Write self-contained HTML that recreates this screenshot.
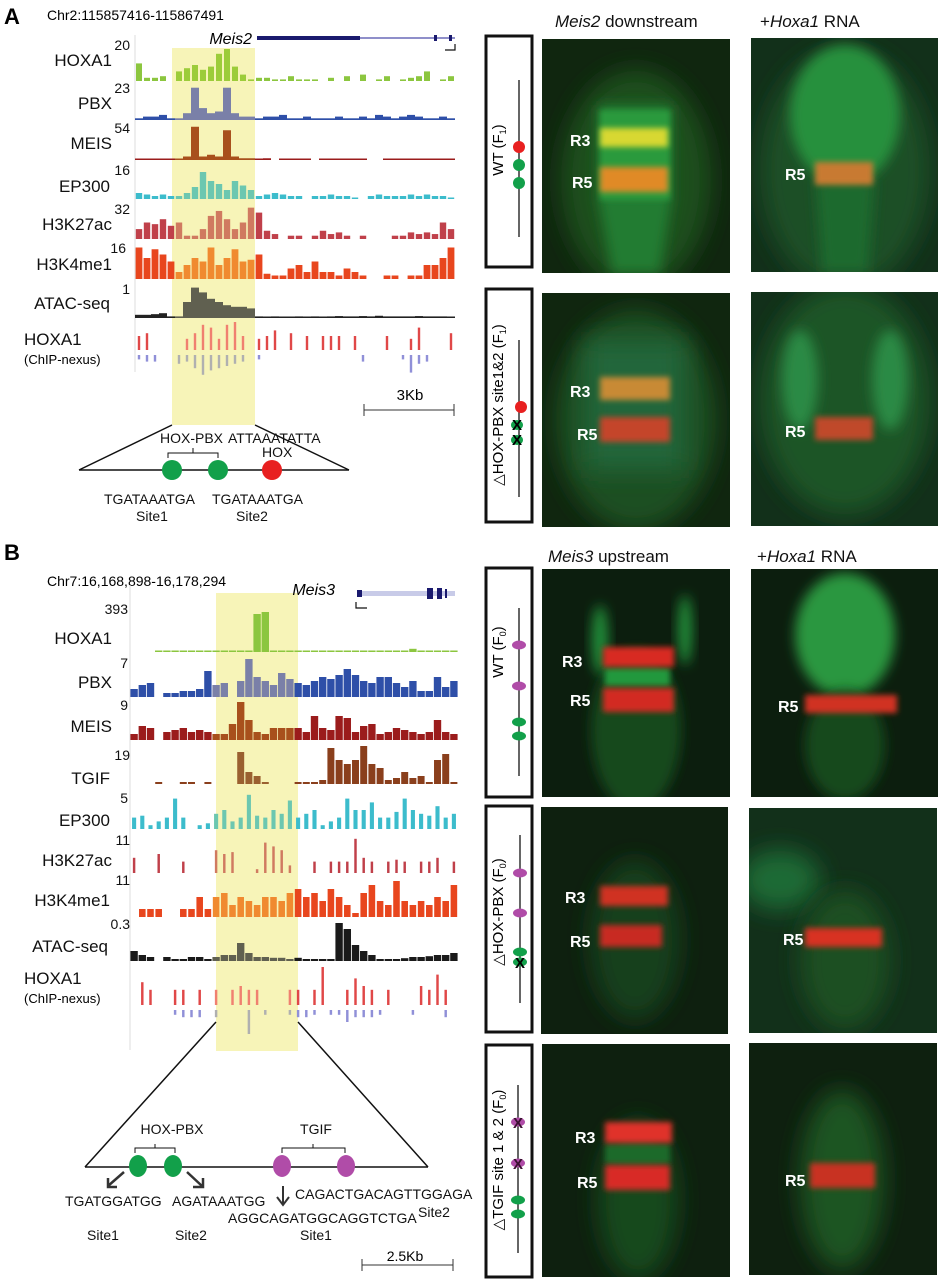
<!DOCTYPE html>
<html><head><meta charset="utf-8">
<style>
html,body{margin:0;padding:0;background:#fff;}
svg{display:block;font-family:"Liberation Sans",sans-serif;}
.lbl{font-size:17px;fill:#111;}
.max{font-size:14px;fill:#111;}
.r{font-size:16px;font-weight:bold;fill:#fff;}
.ttl{font-size:17px;fill:#111;}
.seq{font-size:14px;fill:#111;}
</style></head>
<body>
<svg id="fig" width="940" height="1280" viewBox="0 0 940 1280">
<defs>
  <filter id="b6" x="-50%" y="-50%" width="200%" height="200%"><feGaussianBlur stdDeviation="6"/></filter>
  <filter id="b3" x="-50%" y="-50%" width="200%" height="200%"><feGaussianBlur stdDeviation="3"/></filter>
  <filter id="b12" x="-50%" y="-50%" width="200%" height="200%"><feGaussianBlur stdDeviation="12"/></filter>
</defs>

<!-- Panel A left -->
<text x="4" y="24" font-size="22" font-weight="bold">A</text>
<text x="47" y="20" font-size="14">Chr2:115857416-115867491</text>
<rect x="172" y="48" width="83" height="377" fill="#f7f4b8"/>
<line x1="135" y1="35" x2="135" y2="372" stroke="#ddd" stroke-width="1"/>
<text x="252" y="44" font-size="16" font-style="italic" text-anchor="end">Meis2</text>
<g>
<rect x="257" y="36" width="103" height="4" fill="#1a1a6e"/>
<line x1="360" y1="38" x2="455" y2="38" stroke="#6a6ab8" stroke-width="1.5"/>
<rect x="434" y="35" width="3" height="6" fill="#1a1a6e"/><rect x="449" y="35" width="3" height="6" fill="#1a1a6e"/>
<path d="M445 50 H455 V44" fill="none" stroke="#111" stroke-width="1.2"/>
</g>
<g id="tracksA"></g>
<g>
<text class="lbl" x="112" y="66" text-anchor="end">HOXA1</text><text class="max" x="130" y="50" text-anchor="end">20</text>
<text class="lbl" x="112" y="109" text-anchor="end">PBX</text><text class="max" x="130" y="93" text-anchor="end">23</text>
<text class="lbl" x="112" y="149" text-anchor="end">MEIS</text><text class="max" x="130" y="133" text-anchor="end">54</text>
<text class="lbl" x="110" y="192" text-anchor="end">EP300</text><text class="max" x="130" y="175" text-anchor="end">16</text>
<text class="lbl" x="112" y="230" text-anchor="end">H3K27ac</text><text class="max" x="130" y="214" text-anchor="end">32</text>
<text class="lbl" x="112" y="270" text-anchor="end">H3K4me1</text><text class="max" x="126" y="253" text-anchor="end">16</text>
<text class="lbl" x="110" y="309" text-anchor="end">ATAC-seq</text><text class="max" x="130" y="294" text-anchor="end">1</text>
<text class="lbl" x="24" y="345">HOXA1</text><text x="24" y="364" font-size="13">(ChIP-nexus)</text>
</g>
<g>
<text x="410" y="400" font-size="15" text-anchor="middle">3Kb</text>
<line x1="364" y1="410" x2="454" y2="410" stroke="#333"/><line x1="364" y1="404" x2="364" y2="416" stroke="#333"/><line x1="454" y1="404" x2="454" y2="416" stroke="#333"/>
</g>
<g>
<line x1="172" y1="425" x2="79" y2="470" stroke="#111" stroke-width="1.5"/>
<line x1="255" y1="425" x2="349" y2="470" stroke="#111" stroke-width="1.5"/>
<line x1="79" y1="470" x2="349" y2="470" stroke="#111" stroke-width="1.5"/>
<circle cx="172" cy="470" r="10" fill="#12a04a"/><circle cx="218" cy="470" r="10" fill="#12a04a"/><circle cx="272" cy="470" r="10" fill="#e82020"/>
<path d="M168 458 V453 H218 V458 M193 453 V448" fill="none" stroke="#111"/>
<text class="seq" x="160" y="443" font-size="14">HOX-PBX</text>
<text class="seq" x="228" y="443">ATTAAATATTA</text>
<text class="seq" x="262" y="457">HOX</text>
<text class="seq" x="104" y="504" font-size="13">TGATAAATGA</text><text class="seq" x="136" y="521">Site1</text>
<text class="seq" x="212" y="504" font-size="13">TGATAAATGA</text><text class="seq" x="236" y="521">Site2</text>
</g>

<!-- Panel B left -->
<text x="4" y="560" font-size="22" font-weight="bold">B</text>
<text x="47" y="586" font-size="14">Chr7:16,168,898-16,178,294</text>
<rect x="216" y="593" width="82" height="458" fill="#f7f4b8"/>
<line x1="130" y1="585" x2="130" y2="1050" stroke="#ddd" stroke-width="1"/>
<text x="335" y="595" font-size="16" font-style="italic" text-anchor="end">Meis3</text>
<g>
<rect x="357" y="591" width="98" height="5" fill="#c8cbe8"/>
<rect x="357" y="590" width="5" height="7" fill="#1a1a6e"/>
<rect x="427" y="588" width="6" height="11" fill="#1a1a6e"/><rect x="437" y="588" width="5" height="11" fill="#1a1a6e"/><rect x="445" y="589" width="2" height="9" fill="#1a1a6e"/>
<path d="M356 602 V608 H367" fill="none" stroke="#111" stroke-width="1.2"/>
</g>
<g id="tracksB"></g>
<g>
<text class="max" x="128" y="614" text-anchor="end">393</text><text class="lbl" x="112" y="644" text-anchor="end">HOXA1</text>
<text class="max" x="128" y="668" text-anchor="end">7</text><text class="lbl" x="112" y="688" text-anchor="end">PBX</text>
<text class="max" x="128" y="710" text-anchor="end">9</text><text class="lbl" x="112" y="732" text-anchor="end">MEIS</text>
<text class="max" x="130" y="760" text-anchor="end">19</text><text class="lbl" x="110" y="784" text-anchor="end">TGIF</text>
<text class="max" x="128" y="803" text-anchor="end">5</text><text class="lbl" x="110" y="826" text-anchor="end">EP300</text>
<text class="max" x="130" y="845" text-anchor="end">11</text><text class="lbl" x="112" y="866" text-anchor="end">H3K27ac</text>
<text class="max" x="130" y="885" text-anchor="end">11</text><text class="lbl" x="110" y="906" text-anchor="end">H3K4me1</text>
<text class="max" x="130" y="929" text-anchor="end">0.3</text><text class="lbl" x="108" y="952" text-anchor="end">ATAC-seq</text>
<text class="lbl" x="24" y="984">HOXA1</text><text x="24" y="1003" font-size="13">(ChIP-nexus)</text>
</g>
<g>
<line x1="216" y1="1022" x2="85" y2="1167" stroke="#111" stroke-width="1.5"/>
<line x1="298" y1="1022" x2="428" y2="1167" stroke="#111" stroke-width="1.5"/>
<line x1="85" y1="1167" x2="428" y2="1167" stroke="#111" stroke-width="1.5"/>
<ellipse cx="138" cy="1166" rx="9" ry="11" fill="#12a04a"/><ellipse cx="173" cy="1166" rx="9" ry="11" fill="#12a04a"/>
<ellipse cx="282" cy="1166" rx="9" ry="11" fill="#b04ca8"/><ellipse cx="346" cy="1166" rx="9" ry="11" fill="#b04ca8"/>
<path d="M135 1153 V1148 H175 V1153 M155 1148 V1144" fill="none" stroke="#111"/>
<path d="M282 1153 V1148 H345 V1153 M313 1148 V1144" fill="none" stroke="#111"/>
<text class="seq" x="172" y="1134" font-size="15" text-anchor="middle">HOX-PBX</text>
<text class="seq" x="316" y="1134" font-size="15" text-anchor="middle">TGIF</text>
<path d="M124 1172 L108 1186 M108 1178 V1187 H117" fill="none" stroke="#333" stroke-width="2.5"/>
<path d="M187 1172 L202 1186 M193 1187 H203 V1178" fill="none" stroke="#333" stroke-width="2.5"/>
<path d="M283 1186 V1204 M277 1197 L283 1205 L289 1197" fill="none" stroke="#333" stroke-width="2"/>
<text class="seq" x="65" y="1206">TGATGGATGG</text><text class="seq" x="172" y="1206">AGATAAATGG</text>
<text class="seq" x="295" y="1199" font-size="13">CAGACTGACAGTTGGAGA</text>
<text class="seq" x="228" y="1223" font-size="13">AGGCAGATGGCAGGTCTGA</text>
<text class="seq" x="418" y="1217">Site2</text>
<text class="seq" x="87" y="1240">Site1</text><text class="seq" x="175" y="1240">Site2</text><text class="seq" x="300" y="1240">Site1</text>
</g>
<g>
<text x="405" y="1261" font-size="14" text-anchor="middle">2.5Kb</text>
<line x1="362" y1="1265" x2="453" y2="1265" stroke="#333"/><line x1="362" y1="1259" x2="362" y2="1271" stroke="#333"/><line x1="453" y1="1259" x2="453" y2="1271" stroke="#333"/>
</g>

<!-- Right side titles -->
<text class="ttl" x="555" y="27"><tspan font-style="italic">Meis2</tspan> downstream</text>
<text class="ttl" x="760" y="27">+<tspan font-style="italic">Hoxa1</tspan> RNA</text>
<text class="ttl" x="548" y="562"><tspan font-style="italic">Meis3</tspan> upstream</text>
<text class="ttl" x="757" y="562">+<tspan font-style="italic">Hoxa1</tspan> RNA</text>

<!-- Schematic boxes -->
<g>
<rect x="486" y="36" width="46" height="231" fill="#fff" stroke="#111" stroke-width="3"/>
<text transform="translate(503,150) rotate(-90)" font-size="15" text-anchor="middle">WT (F<tspan font-size="9" dy="3">1</tspan><tspan dy="-3">)</tspan></text>
<line x1="519" y1="80" x2="519" y2="237" stroke="#333" stroke-width="1.5"/>
<ellipse cx="519" cy="147" rx="6" ry="6" fill="#e82020"/><ellipse cx="519" cy="165" rx="6" ry="6" fill="#12a04a"/><ellipse cx="519" cy="183" rx="6" ry="6" fill="#12a04a"/>
</g>
<g>
<rect x="486" y="289" width="46" height="233" fill="#fff" stroke="#111" stroke-width="3"/>
<text transform="translate(503,405) rotate(-90)" font-size="15" text-anchor="middle">△HOX-PBX site1&amp;2 (F<tspan font-size="9" dy="3">1</tspan><tspan dy="-3">)</tspan></text>
<line x1="519" y1="340" x2="519" y2="497" stroke="#333" stroke-width="1.5"/>
<ellipse cx="521" cy="407" rx="6" ry="6" fill="#e82020"/><ellipse cx="517" cy="425" rx="6" ry="5" fill="#12a04a"/><ellipse cx="517" cy="440" rx="6" ry="5" fill="#12a04a"/>
<text x="517" y="430" font-size="15" font-weight="bold" text-anchor="middle">X</text><text x="517" y="445" font-size="15" font-weight="bold" text-anchor="middle">X</text>
</g>
<g>
<rect x="486" y="568" width="46" height="229" fill="#fff" stroke="#111" stroke-width="3"/>
<text transform="translate(503,652) rotate(-90)" font-size="15" text-anchor="middle">WT (F<tspan font-size="9" dy="3">0</tspan><tspan dy="-3">)</tspan></text>
<line x1="519" y1="608" x2="519" y2="776" stroke="#333" stroke-width="1.5"/>
<ellipse cx="519" cy="645" rx="7" ry="4.5" fill="#b04ca8"/><ellipse cx="519" cy="686" rx="7" ry="4.5" fill="#b04ca8"/>
<ellipse cx="519" cy="722" rx="7" ry="4.5" fill="#12a04a"/><ellipse cx="519" cy="736" rx="7" ry="4.5" fill="#12a04a"/>
</g>
<g>
<rect x="486" y="806" width="46" height="226" fill="#fff" stroke="#111" stroke-width="3"/>
<text transform="translate(503,912) rotate(-90)" font-size="15" text-anchor="middle">△HOX-PBX (F<tspan font-size="9" dy="3">0</tspan><tspan dy="-3">)</tspan></text>
<line x1="520" y1="835" x2="520" y2="1003" stroke="#333" stroke-width="1.5"/>
<ellipse cx="520" cy="873" rx="7" ry="4.5" fill="#b04ca8"/><ellipse cx="520" cy="913" rx="7" ry="4.5" fill="#b04ca8"/>
<ellipse cx="520" cy="952" rx="7" ry="4.5" fill="#12a04a"/><ellipse cx="520" cy="962" rx="7" ry="4.5" fill="#12a04a"/>
<text x="520" y="968" font-size="15" font-weight="bold" text-anchor="middle">X</text>
</g>
<g>
<rect x="486" y="1045" width="46" height="232" fill="#fff" stroke="#111" stroke-width="3"/>
<text transform="translate(503,1160) rotate(-90)" font-size="15" text-anchor="middle">△TGIF site 1 &amp; 2 (F<tspan font-size="9" dy="3">0</tspan><tspan dy="-3">)</tspan></text>
<line x1="518" y1="1085" x2="518" y2="1253" stroke="#333" stroke-width="1.5"/>
<ellipse cx="518" cy="1122" rx="7" ry="4.5" fill="#b04ca8"/><ellipse cx="518" cy="1163" rx="7" ry="4.5" fill="#b04ca8"/>
<text x="518" y="1128" font-size="15" font-weight="bold" text-anchor="middle" fill="#3a1030">X</text><text x="518" y="1169" font-size="15" font-weight="bold" text-anchor="middle" fill="#3a1030">X</text>
<ellipse cx="518" cy="1200" rx="7" ry="4.5" fill="#12a04a"/><ellipse cx="518" cy="1214" rx="7" ry="4.5" fill="#12a04a"/>
</g>

<!-- Embryo images -->
<clipPath id="c1"><rect x="542" y="39" width="188" height="234"/></clipPath>
<g clip-path="url(#c1)">
<rect x="542" y="39" width="188" height="234" fill="#10260f"/>
<ellipse cx="636" cy="180" rx="75" ry="110" fill="#1b4f1f" filter="url(#b12)"/>
<path d="M598 105 H672 V200 L660 273 H612 L598 200 Z" fill="#237c33" filter="url(#b6)"/>
<rect x="600" y="110" width="70" height="90" fill="#2a9a3e" filter="url(#b3)"/>
<rect x="600" y="128" width="68" height="19" fill="#d8d830" filter="url(#b3)"/>
<rect x="600" y="167" width="68" height="25" fill="#e08a28" filter="url(#b3)"/>
<text class="r" x="570" y="146">R3</text><text class="r" x="572" y="188">R5</text>
</g>
<clipPath id="c2"><rect x="751" y="38" width="187" height="234"/></clipPath>
<g clip-path="url(#c2)">
<rect x="751" y="38" width="187" height="234" fill="#12301a"/>
<ellipse cx="845" cy="170" rx="85" ry="120" fill="#1c4f26" filter="url(#b12)"/>
<ellipse cx="845" cy="115" rx="55" ry="70" fill="#28903e" filter="url(#b6)"/>
<path d="M815 180 H875 L868 272 H822 Z" fill="#1f6a2e" filter="url(#b6)"/>
<rect x="815" y="162" width="58" height="23" fill="#c87a30" filter="url(#b3)"/>
<text class="r" x="785" y="180">R5</text>
</g>
<clipPath id="c3"><rect x="542" y="293" width="188" height="234"/></clipPath>
<g clip-path="url(#c3)">
<rect x="542" y="293" width="188" height="234" fill="#10260f"/>
<ellipse cx="636" cy="420" rx="80" ry="110" fill="#1c4f22" filter="url(#b12)"/>
<rect x="585" y="340" width="100" height="130" fill="#22663a" filter="url(#b12)"/>
<rect x="600" y="377" width="70" height="23" fill="#c88a34" filter="url(#b3)"/>
<rect x="600" y="417" width="70" height="25" fill="#c4452a" filter="url(#b3)"/>
<text class="r" x="570" y="397">R3</text><text class="r" x="577" y="440">R5</text>
</g>
<clipPath id="c4"><rect x="751" y="292" width="187" height="234"/></clipPath>
<g clip-path="url(#c4)">
<rect x="751" y="292" width="187" height="234" fill="#12301a"/>
<ellipse cx="845" cy="400" rx="85" ry="115" fill="#1e5528" filter="url(#b12)"/>
<ellipse cx="800" cy="380" rx="18" ry="50" fill="#2b8a44" filter="url(#b6)"/>
<ellipse cx="890" cy="380" rx="18" ry="50" fill="#2b8a44" filter="url(#b6)"/>
<rect x="815" y="417" width="58" height="23" fill="#c04a2a" filter="url(#b3)"/>
<text class="r" x="785" y="437">R5</text>
</g>
<clipPath id="c5"><rect x="542" y="569" width="188" height="228"/></clipPath>
<g clip-path="url(#c5)">
<rect x="542" y="569" width="188" height="228" fill="#0c1e0e"/>
<ellipse cx="636" cy="730" rx="45" ry="80" fill="#174a1f" filter="url(#b6)"/>
<ellipse cx="600" cy="640" rx="8" ry="35" fill="#22903a" filter="url(#b6)"/>
<ellipse cx="685" cy="630" rx="7" ry="35" fill="#22903a" filter="url(#b6)"/>
<rect x="605" y="668" width="65" height="18" fill="#24983c" filter="url(#b3)"/>
<rect x="603" y="647" width="71" height="20" fill="#d82a22" filter="url(#b3)"/>
<rect x="603" y="688" width="71" height="24" fill="#d22a22" filter="url(#b3)"/>
<text class="r" x="562" y="667">R3</text><text class="r" x="570" y="706">R5</text>
</g>
<clipPath id="c6"><rect x="751" y="569" width="187" height="228"/></clipPath>
<g clip-path="url(#c6)">
<rect x="751" y="569" width="187" height="228" fill="#0c1e0e"/>
<ellipse cx="845" cy="635" rx="50" ry="62" fill="#29973f" filter="url(#b6)"/>
<ellipse cx="845" cy="745" rx="40" ry="55" fill="#154a1d" filter="url(#b6)"/>
<rect x="805" y="695" width="92" height="18" fill="#d03024" filter="url(#b3)"/>
<text class="r" x="778" y="712">R5</text>
</g>
<clipPath id="c7"><rect x="541" y="807" width="187" height="227"/></clipPath>
<g clip-path="url(#c7)">
<rect x="541" y="807" width="187" height="227" fill="#0e200f"/>
<ellipse cx="635" cy="940" rx="45" ry="80" fill="#163f1a" filter="url(#b12)"/>
<rect x="600" y="886" width="68" height="20" fill="#d03022" filter="url(#b3)"/>
<rect x="600" y="925" width="62" height="22" fill="#c82c22" filter="url(#b3)"/>
<text class="r" x="565" y="903">R3</text><text class="r" x="570" y="947">R5</text>
</g>
<clipPath id="c8"><rect x="749" y="808" width="188" height="225"/></clipPath>
<g clip-path="url(#c8)">
<rect x="749" y="808" width="188" height="225" fill="#12301a"/>
<ellipse cx="780" cy="880" rx="40" ry="30" fill="#1f6a34" filter="url(#b12)"/>
<ellipse cx="845" cy="960" rx="45" ry="70" fill="#1a4f22" filter="url(#b12)"/>
<rect x="805" y="928" width="77" height="19" fill="#d83024" filter="url(#b3)"/>
<text class="r" x="783" y="945">R5</text>
</g>
<clipPath id="c9"><rect x="542" y="1044" width="188" height="233"/></clipPath>
<g clip-path="url(#c9)">
<rect x="542" y="1044" width="188" height="233" fill="#0e200f"/>
<ellipse cx="638" cy="1200" rx="40" ry="80" fill="#174a1e" filter="url(#b12)"/>
<rect x="605" y="1144" width="65" height="20" fill="#1f6a2a" filter="url(#b3)"/>
<rect x="605" y="1122" width="67" height="21" fill="#e0302a" filter="url(#b3)"/>
<rect x="605" y="1165" width="65" height="25" fill="#d82c26" filter="url(#b3)"/>
<text class="r" x="575" y="1143">R3</text><text class="r" x="577" y="1188">R5</text>
</g>
<clipPath id="c10"><rect x="749" y="1043" width="188" height="232"/></clipPath>
<g clip-path="url(#c10)">
<rect x="749" y="1043" width="188" height="232" fill="#0e200f"/>
<ellipse cx="842" cy="1180" rx="42" ry="90" fill="#1b5524" filter="url(#b12)"/>
<rect x="810" y="1163" width="65" height="25" fill="#c83024" filter="url(#b3)"/>
<text class="r" x="785" y="1186">R5</text>
</g>
</svg>
<script>
// Panel A tracks (normalized signal per genomic bin, 40 bins)
const hoxa1A = [.55,.1,.1,.15,0,.3,.4,.5,.35,.45,.85,1,.45,.2,.05,.1,.1,.05,.05,.15,.05,.05,.05,0,.1,0,.15,0,.2,0,.05,.15,0,.05,.1,.15,.3,0,.05,.15];
const pbxA = [.05,.1,.1,.15,.05,.05,.2,.95,.35,.2,.25,.95,.2,.1,.1,.05,.1,.1,.15,.05,.05,.1,.05,.05,.05,.1,.05,.05,.1,.05,.15,.1,.05,.1,.15,.1,.05,.05,.1,.05];
const meisA = [.03,.03,.03,.03,.03,.03,.1,.95,.1,.15,.1,.85,.1,.05,.05,.03,.05,0,.03,.03,.03,.03,0,.03,.03,.03,.03,.03,.03,0,0,.03,.03,.03,.03,.03,.03,.03,.03,.03];
const ep300A = [.2,.15,.1,.15,.1,.1,.2,.4,.9,.6,.5,.3,.6,.45,.3,.1,.15,.2,.15,.1,.1,0,.1,.1,.15,.1,.1,.05,0,.1,.15,.1,.1,.1,.15,.1,.15,.1,.1,.05];
const h3k27A = [.3,.5,.45,.6,.4,.5,.1,.1,.3,.7,.85,.6,.3,.5,.95,.8,.25,.15,0,.1,.1,0,.1,.25,.15,.2,.1,0,.1,0,0,0,.1,.1,.2,.15,.2,.15,.5,.3];
const h3k4A = [.9,.6,.85,.7,.5,.2,.4,.6,.5,.9,.4,.6,.85,.5,.55,.7,.15,.1,.1,.3,.4,.2,.5,.2,.2,.1,.3,.2,.1,0,0,.1,.1,0,.1,.1,.4,.4,.6,.9];
const atacA = [.1,.1,.12,.15,.05,.05,.5,.95,.8,.6,.5,.4,.35,.35,.3,.05,.03,.05,.03,.02,.05,.03,.05,.03,.05,.06,.05,.05,.06,.05,.07,.05,.05,.05,.05,.06,.05,.05,.05,.03];
const nexusUpA = [.5,.6,0,0,0,0,.4,.6,.9,.8,.4,.9,1,.5,0,.4,.5,.7,0,.6,0,.5,0,.5,.5,.5,0,.5,0,0,0,.5,0,0,.4,.8,0,0,0,.6];
const nexusDnA = [.2,.3,.3,0,0,.4,.3,.6,.9,.7,.6,.5,.4,.3,0,.2,0,0,0,0,0,0,0,0,0,0,0,0,.3,0,0,0,0,.2,.8,.4,.3,0,0,0];
// Panel B tracks
const hoxa1B = [0,0,0,.02,.02,.02,.02,.02,.02,.02,.02,.02,.02,.02,.02,.95,1,.02,.02,.02,.02,.02,.02,.02,.02,.02,.02,.03,.03,.03,.02,.02,.02,.02,.08,.02,.02,.02,.02,.02];
const pbxB = [.2,.3,.35,0,.1,.1,.15,.15,.2,.65,.3,.35,0,.4,.95,.5,.4,.3,.6,.45,.35,.3,.4,.5,.45,.55,.7,.55,.4,.35,.5,.5,.35,.25,.4,.15,.15,.5,.25,.4];
const meisB = [.15,.35,.3,0,.2,.25,.3,.2,.25,.2,.15,.15,.4,.95,.5,.2,.15,.3,.3,.3,.3,.2,.6,.3,.25,.6,.55,.2,.35,.4,.15,.2,.3,.25,.2,.15,.2,.5,.2,.15];
const tgifB = [0,0,0,.05,0,0,.05,.05,0,.05,0,0,0,.8,.3,.2,.05,0,0,0,.05,.05,.05,.1,.9,.6,.5,.6,.95,.5,.4,.1,.15,.3,.15,.2,.05,.6,.75,.05];
const ep300B = [.3,.35,.1,.2,.3,.8,.3,0,.1,.15,.4,.5,.2,.3,.9,.35,.3,.5,.4,.75,.3,.4,.5,.1,.2,.3,.8,.5,.5,.7,.3,.3,.45,.8,.5,.4,.35,.6,.3,.4];
const h3k27B = [.4,0,0,.5,0,0,.3,0,0,0,.6,.5,.55,0,0,.1,.8,.7,.6,.2,0,0,.3,0,.3,.3,.3,.9,.4,.3,0,.3,.35,.3,0,.3,.3,.4,0,.3];
const h3k4B = [0,.2,.2,.2,0,0,.2,.2,.5,.2,.5,.6,.3,.5,.4,.3,.5,.5,.4,.6,.7,.5,.6,.4,.7,.5,.3,.1,.6,.8,.4,.3,.9,.4,.3,.4,.3,.5,.4,.8];
const atacB = [.25,.15,.1,0,.1,.05,.05,.1,.1,.05,.1,.15,.15,.45,.2,.1,.1,.08,.08,.05,.08,.05,.05,.05,.05,.95,.8,.4,.25,.15,.05,.05,.05,.07,.1,.1,.12,.15,.15,.2];
const nexusUpB = [0,.6,.4,0,0,.4,.4,0,.4,0,.4,0,.4,.5,.4,.4,0,0,0,.4,.4,0,.4,1,0,0,.4,.7,.5,.4,0,.4,0,0,0,.5,.4,.8,.4,0];
const nexusDnB = [0,0,0,0,0,.2,.3,.3,.3,0,.3,0,0,0,1,0,.2,0,0,.2,.3,.3,.2,0,.2,.2,.5,.3,.3,.3,.2,0,0,0,.2,0,0,0,.3,0];

const NS='http://www.w3.org/2000/svg';
function drawTrack(parent, vals, x0, w, base, h, col, hcol, hl0, hl1, name, down, barFrac){
  const g=document.createElementNS(NS,'g');
  
  
  const bw=w/vals.length;
  const xs=i=>x0+i*bw;
  const ys=v=>v*h;
  vals.forEach((v,i)=>{
    if(v<=0) return;
    const cx=xs(i)+bw/2;
    const inH=cx>=hl0&&cx<=hl1;
    const r=document.createElementNS(NS,'rect');
    
    
    const bwid=bw*(barFrac||1);
    r.setAttribute('x', xs(i)+(bw-bwid)/2);
    r.setAttribute('width', bwid);
    const hh=Math.max(1.5,ys(v));
    r.setAttribute('y', down?base:base-hh);
    r.setAttribute('height', hh);
    r.setAttribute('fill', inH?hcol:col);
    g.appendChild(r);
  });
  parent.appendChild(g);
}
const tA=document.getElementById('tracksA');
const ax0=135, aw=320, ah0=172, ah1=255;
drawTrack(tA,hoxa1A,ax0,aw,81,32,'#8cc63f','#9ccc3a',ah0,ah1,'track-a-hoxa1',false,0.75);
drawTrack(tA,pbxA,ax0,aw,120,34,'#2e4fa8','#7a80a8',ah0,ah1,'track-a-pbx');
drawTrack(tA,meisA,ax0,aw,160,35,'#9b1c1c','#a8501c',ah0,ah1,'track-a-meis');
drawTrack(tA,ep300A,ax0,aw,199,30,'#3cbccc','#6cc7b0',ah0,ah1,'track-a-ep300',false,0.8);
drawTrack(tA,h3k27A,ax0,aw,239,33,'#c0404a','#d07a60',ah0,ah1,'track-a-h3k27ac',false,0.8);
drawTrack(tA,h3k4A,ax0,aw,279,35,'#e8461e','#f08a30',ah0,ah1,'track-a-h3k4me1',false,0.85);
drawTrack(tA,atacA,ax0,aw,318,32,'#222','#606050',ah0,ah1,'track-a-atac');
drawTrack(tA,nexusUpA,ax0,aw,350,28,'#e04848','#f08070',ah0,ah1,'track-a-nexus-plus',false,0.3);
drawTrack(tA,nexusDnA,ax0,aw,355,22,'#9090d8','#b0b0b0',ah0,ah1,'track-a-nexus-minus',true,0.3);
const tB=document.getElementById('tracksB');
const bx0=130, bw=328, bh0=216, bh1=298;
drawTrack(tB,hoxa1B,bx0,bw,652,40,'#8cc63f','#8cc63f',bh0,bh1,'track-b-hoxa1',false,0.9);
drawTrack(tB,pbxB,bx0,bw,697,40,'#2e4fa8','#7a80a8',bh0,bh1,'track-b-pbx',false,0.9);
drawTrack(tB,meisB,bx0,bw,740,40,'#9b1c1c','#a8501c',bh0,bh1,'track-b-meis',false,0.9);
drawTrack(tB,tgifB,bx0,bw,784,40,'#8a3f1c','#9a6030',bh0,bh1,'track-b-tgif',false,0.85);
drawTrack(tB,ep300B,bx0,bw,829,38,'#3cbccc','#6cc7b0',bh0,bh1,'track-b-ep300',false,0.5);
drawTrack(tB,h3k27B,bx0,bw,873,38,'#c0404a','#d07a60',bh0,bh1,'track-b-h3k27ac',false,0.3);
drawTrack(tB,h3k4B,bx0,bw,917,40,'#e8461e','#f08a30',bh0,bh1,'track-b-h3k4me1',false,0.8);
drawTrack(tB,atacB,bx0,bw,961,40,'#1a1a1a','#606050',bh0,bh1,'track-b-atac',false,0.9);
drawTrack(tB,nexusUpB,bx0,bw,1005,38,'#e04848','#f08070',bh0,bh1,'track-b-nexus-plus',false,0.3);
drawTrack(tB,nexusDnB,bx0,bw,1010,24,'#9090d8','#b0b0b0',bh0,bh1,'track-b-nexus-minus',true,0.3);
</script>
</body></html>
